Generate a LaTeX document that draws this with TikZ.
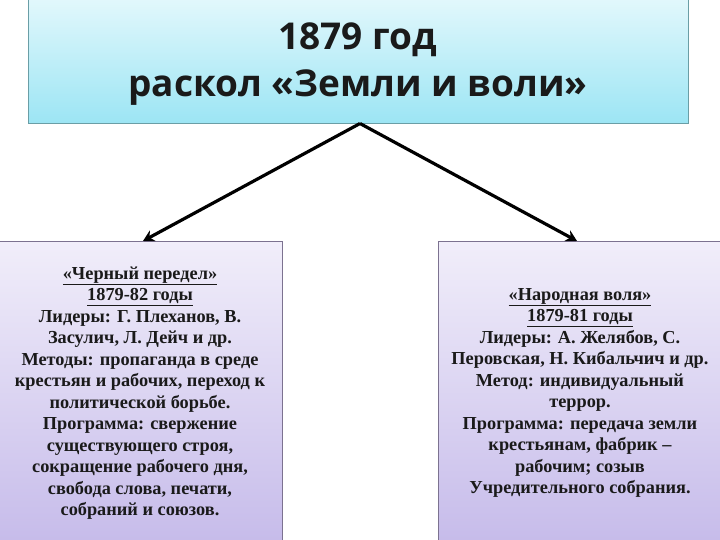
\documentclass[tikz,border=0pt]{standalone}
\usepackage{fontspec}
\setmainfont{Liberation Serif}
\newfontfamily\headfont{Open Sans}
\usetikzlibrary{arrows.meta}
\definecolor{toptop}{HTML}{E3F8FC}
\definecolor{topbot}{HTML}{9CE5F4}
\definecolor{topedge}{HTML}{6A9EA6}
\definecolor{sidetop}{HTML}{F1EEFA}
\definecolor{sidebot}{HTML}{C6BBEA}
\definecolor{sideedge}{HTML}{7C7290}
\definecolor{ink}{HTML}{1A1A1A}
\tikzset{
  topbox/.style={draw=topedge, line width=0.8pt, top color=toptop, bottom color=topbot, inner sep=0pt,
    font=\headfont\bfseries\fontsize{37}{47}\selectfont, align=center, text=ink},
  sidebox/.style={draw=sideedge, line width=0.8pt, top color=sidetop, bottom color=sidebot, inner sep=0pt,
    minimum width=284pt, minimum height=304pt, font=\bfseries\fontsize{18.3}{21.5}\selectfont, align=center, text=ink},
  conn/.style={line width=3.2pt, -{Stealth[length=11pt,width=12pt]}}
}
\begin{document}
\begin{tikzpicture}[x=1pt,y=-1pt]
\useasboundingbox (0,0) rectangle (720,540);
\node[topbox, minimum width=660pt, minimum height=127pt] (top) at (358,60) {};
\node[font=\headfont\bfseries\fontsize{37}{47}\selectfont, align=center, text=ink] (title) at (358,64) {1879 год\\раскол «Земли и воли»};
\node[sidebox] (left) at (140,393) {\underline{«Черный передел»}\\\underline{1879-82 годы}\\Лидеры: Г. Плеханов, В.\\Засулич, Л. Дейч и др.\\Методы: пропаганда в среде\\крестьян и рабочих, переход к\\политической борьбе.\\Программа: свержение\\существующего строя,\\сокращение рабочего дня,\\свобода слова, печати,\\собраний и союзов.};
\node[sidebox] (right) at (580,393) {\underline{«Народная воля»}\\\underline{1879-81 годы}\\Лидеры: А. Желябов, С.\\Перовская, Н. Кибальчич и др.\\Метод: индивидуальный\\террор.\\Программа: передача земли\\крестьянам, фабрик –\\рабочим; созыв\\Учредительного собрания.};
\coordinate (apex) at (360,123.5);
\draw[conn] (apex) -- (143,241);
\draw[conn] (apex) -- (577,241);
\end{tikzpicture}
\end{document}
